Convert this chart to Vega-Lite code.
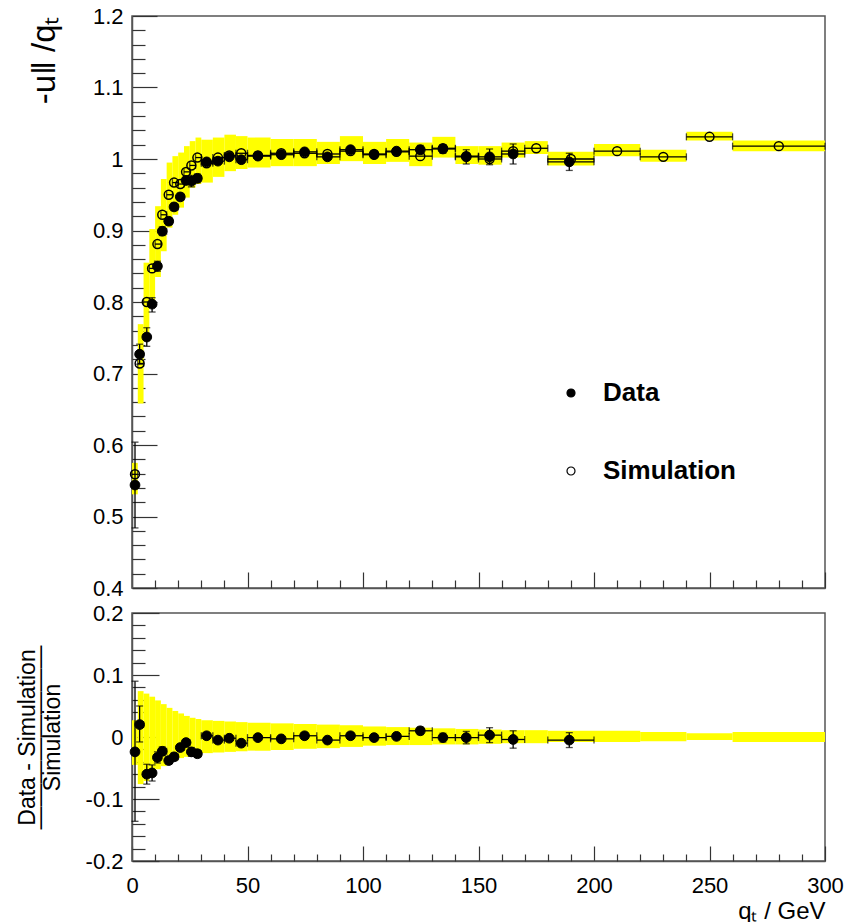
{
  "$schema": "https://vega.github.io/schema/vega-lite/v6.json",
  "background": "white",
  "padding": {"left": 15, "top": 4, "right": 20, "bottom": 5},
  "spacing": 25,
  "bounds": "flush",
  "config": {
    "view": {"stroke": "#555555", "strokeWidth": 1.5},
    "font": "Liberation Sans",
    "axis": {"grid": false, "labelFont": "Liberation Sans", "labelFontSize": 22, "labelColor": "black", "labelFlush": false, "labelOverlap": false, "tickColor": "#333333", "tickWidth": 1.2, "domainColor": "#555555", "domainWidth": 1.5, "titleColor": "black", "titleFontWeight": "normal", "titleFont": "Liberation Sans"}
  },
  "datasets": {
    "dat": [
      {"q":1.3,"lo":0,"hi":2.5,"d":0.544,"dlo":0.484,"dhi":0.604,"r":-0.024,"elo":-0.136,"ehi":0.090},
      {"q":3.3,"lo":2.5,"hi":5,"d":0.727,"dlo":0.713,"dhi":0.741,"r":0.020,"elo":-0.008,"ehi":0.050},
      {"q":6.4,"lo":5,"hi":7.5,"d":0.751,"dlo":0.738,"dhi":0.764,"r":-0.060,"elo":-0.076,"ehi":-0.044},
      {"q":8.7,"lo":7.5,"hi":10,"d":0.797,"dlo":0.786,"dhi":0.806,"r":-0.058,"elo":-0.071,"ehi":-0.045},
      {"q":11.0,"lo":10,"hi":12.5,"d":0.850,"dlo":0.843,"dhi":0.857,"r":-0.033,"elo":-0.042,"ehi":-0.024},
      {"q":13.1,"lo":12.5,"hi":15,"d":0.899,"dlo":0.893,"dhi":0.905,"r":-0.023,"elo":-0.030,"ehi":-0.016},
      {"q":15.9,"lo":15,"hi":17.5,"d":0.913,"dlo":0.908,"dhi":0.918,"r":-0.038,"elo":-0.044,"ehi":-0.032},
      {"q":18.2,"lo":17.5,"hi":20,"d":0.933,"dlo":0.928,"dhi":0.938,"r":-0.032,"elo":-0.038,"ehi":-0.026},
      {"q":20.9,"lo":20,"hi":22.5,"d":0.947,"dlo":0.942,"dhi":0.952,"r":-0.017,"elo":-0.022,"ehi":-0.012},
      {"q":23.4,"lo":22.5,"hi":25,"d":0.970,"dlo":0.965,"dhi":0.975,"r":-0.009,"elo":-0.014,"ehi":-0.004},
      {"q":25.7,"lo":25,"hi":27.5,"d":0.969,"dlo":0.961,"dhi":0.977,"r":-0.024,"elo":-0.031,"ehi":-0.017},
      {"q":28.3,"lo":27.5,"hi":30,"d":0.973,"dlo":0.967,"dhi":0.979,"r":-0.027,"elo":-0.033,"ehi":-0.021},
      {"q":32.3,"lo":30,"hi":35,"d":0.996,"dlo":0.993,"dhi":0.999,"r":0.002,"elo":-0.002,"ehi":0.006},
      {"q":37.2,"lo":35,"hi":40,"d":0.997,"dlo":0.994,"dhi":1.000,"r":-0.005,"elo":-0.009,"ehi":-0.001},
      {"q":42.1,"lo":40,"hi":45,"d":1.003,"dlo":1.000,"dhi":1.006,"r":-0.002,"elo":-0.006,"ehi":0.002},
      {"q":47.3,"lo":45,"hi":50,"d":0.999,"dlo":0.996,"dhi":1.002,"r":-0.010,"elo":-0.014,"ehi":-0.006},
      {"q":54.5,"lo":50,"hi":60,"d":1.004,"dlo":1.001,"dhi":1.007,"r":-0.001,"elo":-0.005,"ehi":0.003},
      {"q":64.6,"lo":60,"hi":70,"d":1.006,"dlo":1.003,"dhi":1.009,"r":-0.003,"elo":-0.007,"ehi":0.001},
      {"q":74.7,"lo":70,"hi":80,"d":1.010,"dlo":1.007,"dhi":1.013,"r":0.002,"elo":-0.002,"ehi":0.006},
      {"q":84.6,"lo":80,"hi":90,"d":1.003,"dlo":1.000,"dhi":1.006,"r":-0.005,"elo":-0.009,"ehi":-0.001},
      {"q":94.6,"lo":90,"hi":100,"d":1.013,"dlo":1.009,"dhi":1.017,"r":0.002,"elo":-0.003,"ehi":0.007},
      {"q":104.8,"lo":100,"hi":110,"d":1.006,"dlo":1.002,"dhi":1.010,"r":-0.001,"elo":-0.006,"ehi":0.004},
      {"q":114.5,"lo":110,"hi":120,"d":1.011,"dlo":1.007,"dhi":1.015,"r":0.001,"elo":-0.004,"ehi":0.006},
      {"q":124.8,"lo":120,"hi":130,"d":1.013,"dlo":1.007,"dhi":1.019,"r":0.010,"elo":0.004,"ehi":0.016},
      {"q":134.6,"lo":130,"hi":140,"d":1.014,"dlo":1.008,"dhi":1.020,"r":-0.001,"elo":-0.008,"ehi":0.006},
      {"q":144.7,"lo":140,"hi":150,"d":1.003,"dlo":0.993,"dhi":1.013,"r":-0.001,"elo":-0.011,"ehi":0.009},
      {"q":154.8,"lo":150,"hi":160,"d":1.003,"dlo":0.992,"dhi":1.014,"r":0.003,"elo":-0.009,"ehi":0.015},
      {"q":165.0,"lo":160,"hi":170,"d":1.007,"dlo":0.993,"dhi":1.021,"r":-0.004,"elo":-0.018,"ehi":0.010},
      {"q":189.3,"lo":180,"hi":200,"d":0.996,"dlo":0.984,"dhi":1.008,"r":-0.005,"elo":-0.017,"ehi":0.007}
    ],
    "sim": [
      {"q":1.3,"lo":0,"hi":2.5,"s":0.559},
      {"q":3.3,"lo":2.5,"hi":5,"s":0.714},
      {"q":6.4,"lo":5,"hi":7.5,"s":0.800},
      {"q":8.7,"lo":7.5,"hi":10,"s":0.847},
      {"q":11.0,"lo":10,"hi":12.5,"s":0.881},
      {"q":13.1,"lo":12.5,"hi":15,"s":0.922},
      {"q":15.9,"lo":15,"hi":17.5,"s":0.950},
      {"q":18.2,"lo":17.5,"hi":20,"s":0.967},
      {"q":20.9,"lo":20,"hi":22.5,"s":0.965},
      {"q":23.4,"lo":22.5,"hi":25,"s":0.982},
      {"q":25.7,"lo":25,"hi":27.5,"s":0.991},
      {"q":28.3,"lo":27.5,"hi":30,"s":1.002},
      {"q":32.3,"lo":30,"hi":35,"s":0.994},
      {"q":37.2,"lo":35,"hi":40,"s":1.002},
      {"q":42.1,"lo":40,"hi":45,"s":1.005},
      {"q":47.3,"lo":45,"hi":50,"s":1.008},
      {"q":54.5,"lo":50,"hi":60,"s":1.005},
      {"q":64.6,"lo":60,"hi":70,"s":1.008},
      {"q":74.7,"lo":70,"hi":80,"s":1.008},
      {"q":84.6,"lo":80,"hi":90,"s":1.007},
      {"q":94.6,"lo":90,"hi":100,"s":1.011},
      {"q":104.8,"lo":100,"hi":110,"s":1.007},
      {"q":114.5,"lo":110,"hi":120,"s":1.010},
      {"q":124.8,"lo":120,"hi":130,"s":1.004},
      {"q":134.6,"lo":130,"hi":140,"s":1.015},
      {"q":144.7,"lo":140,"hi":150,"s":1.004},
      {"q":154.8,"lo":150,"hi":160,"s":1.000},
      {"q":165.0,"lo":160,"hi":170,"s":1.011},
      {"q":175,"lo":170,"hi":180,"s":1.015},
      {"q":190,"lo":180,"hi":200,"s":1.000},
      {"q":210,"lo":200,"hi":220,"s":1.011},
      {"q":230,"lo":220,"hi":240,"s":1.003},
      {"q":250,"lo":240,"hi":260,"s":1.031},
      {"q":280,"lo":260,"hi":300,"s":1.018}
    ],
    "band": [
      {"lo":0,"hi":2.5,"blo":0.531,"bhi":0.575,"clo":-0.045,"chi":0.027},
      {"lo":2.5,"hi":5,"blo":0.658,"bhi":0.769,"clo":-0.076,"chi":0.074},
      {"lo":5,"hi":7.5,"blo":0.745,"bhi":0.855,"clo":-0.071,"chi":0.070},
      {"lo":7.5,"hi":10,"blo":0.797,"bhi":0.902,"clo":-0.060,"chi":0.065},
      {"lo":10,"hi":12.5,"blo":0.835,"bhi":0.934,"clo":-0.052,"chi":0.059},
      {"lo":12.5,"hi":15,"blo":0.871,"bhi":0.972,"clo":-0.047,"chi":0.053},
      {"lo":15,"hi":17.5,"blo":0.904,"bhi":0.995,"clo":-0.041,"chi":0.047},
      {"lo":17.5,"hi":20,"blo":0.922,"bhi":1.004,"clo":-0.038,"chi":0.042},
      {"lo":20,"hi":22.5,"blo":0.932,"bhi":1.009,"clo":-0.034,"chi":0.038},
      {"lo":22.5,"hi":25,"blo":0.946,"bhi":1.018,"clo":-0.032,"chi":0.034},
      {"lo":25,"hi":27.5,"blo":0.960,"bhi":1.025,"clo":-0.029,"chi":0.031},
      {"lo":27.5,"hi":30,"blo":0.965,"bhi":1.030,"clo":-0.027,"chi":0.029},
      {"lo":30,"hi":35,"blo":0.967,"bhi":1.027,"clo":-0.026,"chi":0.027},
      {"lo":35,"hi":40,"blo":0.975,"bhi":1.030,"clo":-0.025,"chi":0.026},
      {"lo":40,"hi":45,"blo":0.983,"bhi":1.034,"clo":-0.024,"chi":0.025},
      {"lo":45,"hi":50,"blo":0.986,"bhi":1.032,"clo":-0.023,"chi":0.024},
      {"lo":50,"hi":60,"blo":0.988,"bhi":1.030,"clo":-0.022,"chi":0.023},
      {"lo":60,"hi":70,"blo":0.990,"bhi":1.028,"clo":-0.021,"chi":0.022},
      {"lo":70,"hi":80,"blo":0.990,"bhi":1.028,"clo":-0.019,"chi":0.021},
      {"lo":80,"hi":90,"blo":0.993,"bhi":1.024,"clo":-0.018,"chi":0.020},
      {"lo":90,"hi":100,"blo":0.997,"bhi":1.032,"clo":-0.016,"chi":0.019},
      {"lo":100,"hi":110,"blo":0.993,"bhi":1.024,"clo":-0.014,"chi":0.017},
      {"lo":110,"hi":120,"blo":0.996,"bhi":1.028,"clo":-0.013,"chi":0.016},
      {"lo":120,"hi":130,"blo":0.990,"bhi":1.023,"clo":-0.013,"chi":0.015},
      {"lo":130,"hi":140,"blo":1.002,"bhi":1.031,"clo":-0.012,"chi":0.014},
      {"lo":140,"hi":150,"blo":0.993,"bhi":1.018,"clo":-0.012,"chi":0.013},
      {"lo":150,"hi":160,"blo":0.992,"bhi":1.018,"clo":-0.011,"chi":0.012},
      {"lo":160,"hi":170,"blo":1.002,"bhi":1.023,"clo":-0.010,"chi":0.011},
      {"lo":170,"hi":180,"blo":1.007,"bhi":1.025,"clo":-0.010,"chi":0.011},
      {"lo":180,"hi":200,"blo":0.991,"bhi":1.010,"clo":-0.008,"chi":0.010},
      {"lo":200,"hi":220,"blo":1.004,"bhi":1.021,"clo":-0.008,"chi":0.010},
      {"lo":220,"hi":240,"blo":0.996,"bhi":1.013,"clo":-0.007,"chi":0.008},
      {"lo":240,"hi":260,"blo":1.026,"bhi":1.038,"clo":-0.005,"chi":0.006},
      {"lo":260,"hi":300,"blo":1.011,"bhi":1.026,"clo":-0.008,"chi":0.008}
    ]
  },
  "vconcat": [
    {
      "width": 693,
      "height": 572,
      "resolve": {"axis": {"x": "independent", "y": "independent"}},
      "layer": [
        {
          "mark": {"type": "rule", "color": "#7dd37d", "strokeWidth": 1.5},
          "encoding": {
            "x": {"datum": 0, "type": "quantitative", "scale": {"domain": [0, 300], "nice": false, "zero": false},
                  "axis": {"orient": "bottom", "values": [0, 50, 100, 150, 200, 250, 300], "labels": false, "tickSize": -16, "title": null}},
            "x2": {"datum": 180},
            "y": {"datum": 1, "type": "quantitative", "scale": {"domain": [0.4, 1.2], "nice": false, "zero": false},
                  "axis": {"orient": "left", "values": [0.4, 0.5, 0.6, 0.7, 0.8, 0.9, 1, 1.1, 1.2], "tickSize": -25, "labelPadding": 34,
                           "labelExpr": "format(datum.value, '~g')",
                           "title": "-u‖ /qₜ", "titleFontSize": 33, "titleX": -88, "titleY": 0, "titleAngle": 270, "titleAlign": "right", "titleBaseline": "middle"}}
          }
        },
        {
          "data": {"name": "band"},
          "mark": {"type": "rect", "color": "#ffff00"},
          "encoding": {
            "x": {"field": "lo", "type": "quantitative",
                  "axis": {"orient": "bottom", "values": [10,20,30,40,60,70,80,90,110,120,130,140,160,170,180,190,210,220,230,240,260,270,280,290], "labels": false, "domain": false, "tickSize": -8, "title": null}},
            "x2": {"field": "hi"},
            "y": {"field": "blo", "type": "quantitative",
                  "axis": {"orient": "left", "values": [0.42,0.44,0.46,0.48,0.52,0.54,0.56,0.58,0.62,0.64,0.66,0.68,0.72,0.74,0.76,0.78,0.82,0.84,0.86,0.88,0.92,0.94,0.96,0.98,1.02,1.04,1.06,1.08,1.12,1.14,1.16,1.18], "labels": false, "domain": false, "tickSize": -13, "title": null}},
            "y2": {"field": "bhi"}
          }
        },
        {
          "data": {"name": "sim"},
          "mark": {"type": "rule", "color": "black", "strokeWidth": 1.3},
          "encoding": {
            "x": {"field": "lo", "type": "quantitative", "axis": null},
            "x2": {"field": "hi"},
            "y": {"field": "s", "type": "quantitative", "axis": null}
          }
        },
        {
          "data": {"name": "sim"},
          "mark": {"type": "tick", "orient": "vertical", "color": "black", "size": 7, "thickness": 1.3},
          "encoding": {
            "x": {"field": "lo", "type": "quantitative", "axis": null},
            "y": {"field": "s", "type": "quantitative", "axis": null}
          }
        },
        {
          "data": {"name": "sim"},
          "mark": {"type": "tick", "orient": "vertical", "color": "black", "size": 7, "thickness": 1.3},
          "encoding": {
            "x": {"field": "hi", "type": "quantitative", "axis": null},
            "y": {"field": "s", "type": "quantitative", "axis": null}
          }
        },
        {
          "data": {"name": "sim"},
          "mark": {"type": "point", "shape": "circle", "filled": true, "stroke": "black", "strokeWidth": 1.5, "size": 80, "opacity": 1},
          "encoding": {
            "x": {"field": "q", "type": "quantitative", "axis": null},
            "y": {"field": "s", "type": "quantitative", "axis": null},
            "fill": {"datum": "Simulation", "type": "nominal"}
          }
        },
        {
          "data": {"name": "dat"},
          "mark": {"type": "rule", "color": "black", "strokeWidth": 1.3},
          "encoding": {
            "x": {"field": "lo", "type": "quantitative", "axis": null},
            "x2": {"field": "hi"},
            "y": {"field": "d", "type": "quantitative", "axis": null}
          }
        },
        {
          "data": {"name": "dat"},
          "mark": {"type": "tick", "orient": "vertical", "color": "black", "size": 7, "thickness": 1.3},
          "encoding": {
            "x": {"field": "lo", "type": "quantitative", "axis": null},
            "y": {"field": "d", "type": "quantitative", "axis": null}
          }
        },
        {
          "data": {"name": "dat"},
          "mark": {"type": "tick", "orient": "vertical", "color": "black", "size": 7, "thickness": 1.3},
          "encoding": {
            "x": {"field": "hi", "type": "quantitative", "axis": null},
            "y": {"field": "d", "type": "quantitative", "axis": null}
          }
        },
        {
          "data": {"name": "dat"},
          "mark": {"type": "rule", "color": "black", "strokeWidth": 1.3},
          "encoding": {
            "x": {"field": "q", "type": "quantitative", "axis": null},
            "y": {"field": "dlo", "type": "quantitative", "axis": null},
            "y2": {"field": "dhi"}
          }
        },
        {
          "data": {"name": "dat"},
          "mark": {"type": "tick", "orient": "horizontal", "color": "black", "size": 7, "thickness": 1.3},
          "encoding": {
            "x": {"field": "q", "type": "quantitative", "axis": null},
            "y": {"field": "dlo", "type": "quantitative", "axis": null}
          }
        },
        {
          "data": {"name": "dat"},
          "mark": {"type": "tick", "orient": "horizontal", "color": "black", "size": 7, "thickness": 1.3},
          "encoding": {
            "x": {"field": "q", "type": "quantitative", "axis": null},
            "y": {"field": "dhi", "type": "quantitative", "axis": null}
          }
        },
        {
          "data": {"name": "dat"},
          "mark": {"type": "point", "shape": "circle", "filled": true, "stroke": "black", "strokeWidth": 1, "size": 95, "opacity": 1},
          "encoding": {
            "x": {"field": "q", "type": "quantitative", "axis": null},
            "y": {"field": "d", "type": "quantitative", "axis": null},
            "fill": {"datum": "Data", "type": "nominal",
                     "scale": {"domain": ["Data", "Simulation"], "range": ["black", "transparent"]},
                     "legend": {"title": null, "orient": "none", "legendX": 426, "legendY": 364, "padding": 0,
                                "labelFont": "Liberation Sans", "labelFontWeight": "bold", "labelFontSize": 26, "labelColor": "black",
                                "symbolType": "circle", "symbolSize": 64, "symbolStrokeColor": "black", "symbolStrokeWidth": 1.2,
                                "labelOffset": 19, "rowPadding": 52}}
          }
        }
      ]
    },
    {
      "width": 693,
      "height": 248,
      "resolve": {"axis": {"x": "independent", "y": "independent"}},
      "layer": [
        {
          "data": {"name": "band"},
          "mark": {"type": "rect", "color": "#ffff00"},
          "encoding": {
            "x": {"field": "lo", "type": "quantitative", "scale": {"domain": [0, 300], "nice": false, "zero": false},
                  "axis": {"orient": "bottom", "values": [0, 50, 100, 150, 200, 250, 300], "tickSize": -15, "labelPadding": 29,
                           "title": "qₜ / GeV", "titleFontSize": 24, "titleX": 693, "titleY": 57, "titleAlign": "right", "titleBaseline": "alphabetic", "titleAngle": 0}},
            "x2": {"field": "hi"},
            "y": {"field": "clo", "type": "quantitative", "scale": {"domain": [-0.2, 0.2], "nice": false, "zero": false},
                  "axis": {"orient": "left", "values": [-0.2, -0.1, 0, 0.1, 0.2], "tickSize": -27, "labelPadding": 36,
                           "labelExpr": "replace(format(datum.value, '~g'), '−', '-')",
                           "title": ["Data - Simulation", "————————", "Simulation"], "titleFontSize": 23, "titleLineHeight": 12.5,
                           "titleX": -98, "titleY": 124, "titleAngle": 270, "titleAlign": "center", "titleBaseline": "alphabetic"}},
            "y2": {"field": "chi"}
          }
        },
        {
          "data": {"name": "dat"},
          "mark": {"type": "rule", "color": "black", "strokeWidth": 1.3},
          "encoding": {
            "x": {"field": "lo", "type": "quantitative",
                  "axis": {"orient": "bottom", "values": [10,20,30,40,60,70,80,90,110,120,130,140,160,170,180,190,210,220,230,240,260,270,280,290], "labels": false, "domain": false, "tickSize": -7, "title": null}},
            "x2": {"field": "hi"},
            "y": {"field": "r", "type": "quantitative",
                  "axis": {"orient": "left", "values": [-0.18,-0.16,-0.14,-0.12,-0.08,-0.06,-0.04,-0.02,0.02,0.04,0.06,0.08,0.12,0.14,0.16,0.18], "labels": false, "domain": false, "tickSize": -13, "title": null}}
          }
        },
        {
          "data": {"name": "dat"},
          "mark": {"type": "tick", "orient": "vertical", "color": "black", "size": 7, "thickness": 1.3},
          "encoding": {
            "x": {"field": "lo", "type": "quantitative", "axis": null},
            "y": {"field": "r", "type": "quantitative", "axis": null}
          }
        },
        {
          "data": {"name": "dat"},
          "mark": {"type": "tick", "orient": "vertical", "color": "black", "size": 7, "thickness": 1.3},
          "encoding": {
            "x": {"field": "hi", "type": "quantitative", "axis": null},
            "y": {"field": "r", "type": "quantitative", "axis": null}
          }
        },
        {
          "data": {"name": "dat"},
          "mark": {"type": "rule", "color": "black", "strokeWidth": 1.3},
          "encoding": {
            "x": {"field": "q", "type": "quantitative", "axis": null},
            "y": {"field": "elo", "type": "quantitative", "axis": null},
            "y2": {"field": "ehi"}
          }
        },
        {
          "data": {"name": "dat"},
          "mark": {"type": "tick", "orient": "horizontal", "color": "black", "size": 7, "thickness": 1.3},
          "encoding": {
            "x": {"field": "q", "type": "quantitative", "axis": null},
            "y": {"field": "elo", "type": "quantitative", "axis": null}
          }
        },
        {
          "data": {"name": "dat"},
          "mark": {"type": "tick", "orient": "horizontal", "color": "black", "size": 7, "thickness": 1.3},
          "encoding": {
            "x": {"field": "q", "type": "quantitative", "axis": null},
            "y": {"field": "ehi", "type": "quantitative", "axis": null}
          }
        },
        {
          "data": {"name": "dat"},
          "mark": {"type": "point", "shape": "circle", "filled": true, "fill": "black", "stroke": "black", "strokeWidth": 1, "size": 95, "opacity": 1},
          "encoding": {
            "x": {"field": "q", "type": "quantitative", "axis": null},
            "y": {"field": "r", "type": "quantitative", "axis": null}
          }
        }
      ]
    }
  ]
}
